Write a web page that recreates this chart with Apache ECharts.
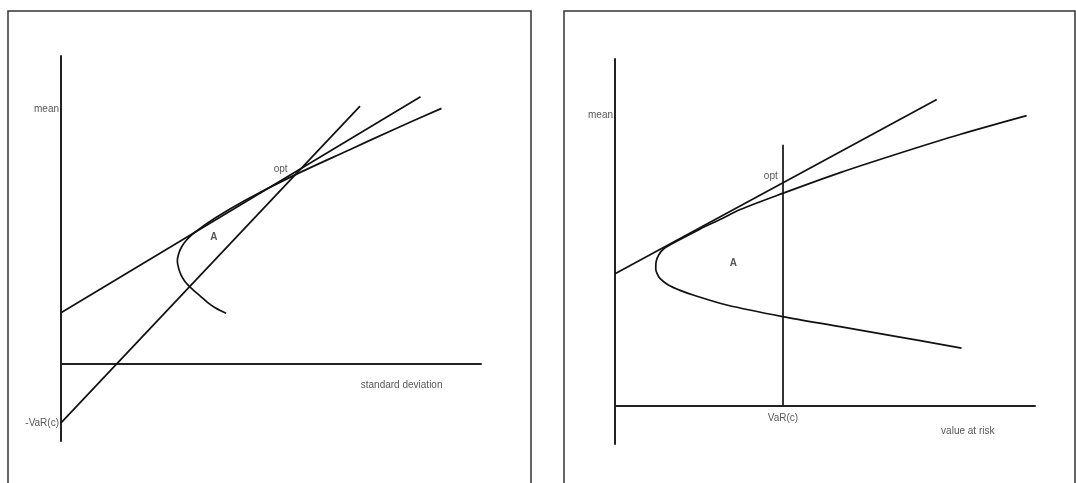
<!DOCTYPE html>
<html>
<head>
<meta charset="utf-8">
<title>mean vs standard deviation / value at risk</title>
<script src="https://cdn.jsdelivr.net/npm/echarts@6/dist/echarts.min.js"></script>
<style>
  html, body { margin: 0; padding: 0; background: #fff; }
  #main { width: 1076px; height: 483px; }
</style>
</head>
<body>
<div id="main"></div>
<script>
// left panel: mean / standard deviation (x 0..100, y -20..80)
const sdTangent = [[0, 13.3], [85.6, 69.4]];
const sdVarLine = [[0, -15.3], [71.2, 67.0]];
const sdFrontier = [
  [90.6, 66.4], [79.0, 60.8], [68.6, 55.6], [55.1, 48.8], [44.0, 42.6],
  [36.7, 37.9], [31.5, 33.9], [29.9, 32.2], [28.7, 30.4], [28.0, 28.6],
  [27.7, 26.8], [28.0, 24.9], [28.6, 23.1], [29.6, 21.3], [31.2, 19.5],
  [33.1, 17.7], [35.1, 15.8], [37.0, 14.4], [39.3, 13.2]
];
const sdAxisTexts = ['mean', '-VaR(c)'];
const sdAxisTextPos = [[0, 66.2], [0, -15.3]];
const sdNotes = ['standard deviation', 'opt', 'A'];
const sdNotePos = [[81.1, -5.5], [52.3, 50.6], [36.4, 33.0]];

// right panel: mean / value at risk (x 0..100, y -10..90)
const varTangent = [[0, 34.2], [76.6, 79.5]];
const varLevel = 40;
const varLineTop = 67.7;
const varFrontier = [
  [98.0, 75.3], [82.1, 70.4], [67.9, 65.6], [53.6, 60.5], [39.9, 55.1],
  [29.8, 50.9], [25.0, 48.3], [20.2, 45.8], [15.5, 43.1], [11.5, 40.6],
  [10.4, 39.1], [9.8, 37.4], [9.7, 35.6], [10.0, 34.3], [10.7, 33.0],
  [12.7, 31.3], [15.5, 29.9], [18.6, 28.7], [26.6, 26.1], [39.9, 23.1],
  [53.6, 20.5], [65.1, 18.3], [82.5, 14.9]
];
const varAxisTexts = ['mean'];
const varAxisTextPos = [[0, 75.3]];
const varNotes = ['VaR(c)', 'value at risk', 'opt', 'A'];
const varNotePos = [[40, -3.2], [84.0, -6.6], [37.1, 59.6], [28.2, 37.0]];

const FONT = '"Liberation Sans", Arial, sans-serif';

function lineSeries(idx, data, smooth) {
  return {
    type: 'line', xAxisIndex: idx, yAxisIndex: idx, data: data,
    showSymbol: false, smooth: smooth ? 0.3 : false, silent: true,
    lineStyle: { color: '#111', width: 1.7 }
  };
}

function textSeries(idx, names, pos, where) {
  return {
    type: 'scatter', xAxisIndex: idx, yAxisIndex: idx, symbolSize: 0, silent: true,
    data: names.map((n, i) => ({
      name: n, value: pos[i],
      label: n === 'A' ? { fontWeight: 'bold' } : undefined
    })),
    label: { show: true, formatter: '{b}', position: where, distance: 2,
      color: '#2b2b2b', fontFamily: FONT, fontSize: 10 }
  };
}

function xAxis(idx) {
  return {
    type: 'value', gridIndex: idx, min: 0, max: 100,
    axisLine: { onZero: true, lineStyle: { color: '#222', width: 2 } },
    axisTick: { show: false }, axisLabel: { show: false }, splitLine: { show: false }
  };
}

function yAxis(idx, min, max) {
  return {
    type: 'value', gridIndex: idx, min: min, max: max,
    axisLine: { show: true, onZero: true, lineStyle: { color: '#222', width: 2 } },
    axisTick: { show: false }, axisLabel: { show: false }, splitLine: { show: false }
  };
}

const chart = echarts.init(document.getElementById('main'));
chart.setOption({
  animation: false,
  backgroundColor: '#fff',
  graphic: [
    { type: 'rect', shape: { x: 8, y: 11, width: 523, height: 500 },
      style: { fill: 'none', stroke: '#333', lineWidth: 1.5 } },
    { type: 'rect', shape: { x: 564, y: 11, width: 511, height: 500 },
      style: { fill: 'none', stroke: '#333', lineWidth: 1.5 } }
  ],
  grid: [
    { left: 61, top: 56, width: 420, height: 385 },
    { left: 615, top: 59, width: 420, height: 385 }
  ],
  xAxis: [xAxis(0), xAxis(1)],
  yAxis: [yAxis(0, -20, 80), yAxis(1, -10, 90)],
  series: [
    lineSeries(0, sdTangent, false),
    lineSeries(0, sdVarLine, false),
    lineSeries(0, sdFrontier, true),
    textSeries(0, sdAxisTexts, sdAxisTextPos, 'left'),
    textSeries(0, sdNotes, sdNotePos, 'inside'),
    lineSeries(1, varTangent, false),
    lineSeries(1, [[varLevel, 0], [varLevel, varLineTop]], false),
    lineSeries(1, varFrontier, true),
    textSeries(1, varAxisTexts, varAxisTextPos, 'left'),
    textSeries(1, varNotes, varNotePos, 'inside')
  ]
});
</script>
</body>
</html>
